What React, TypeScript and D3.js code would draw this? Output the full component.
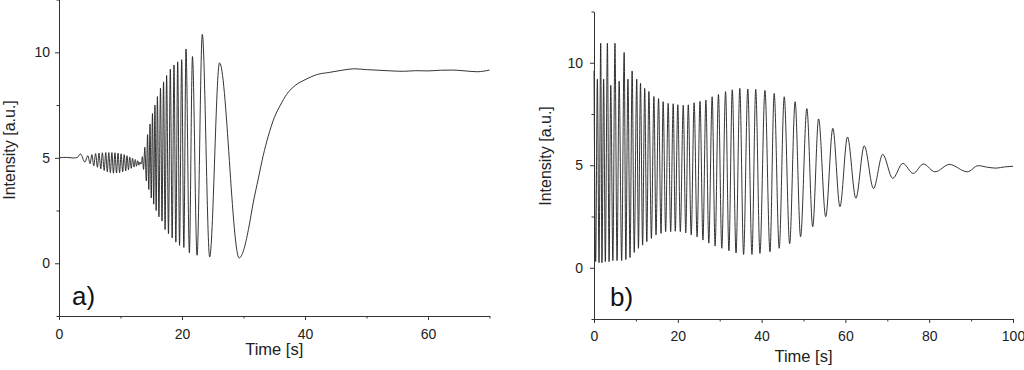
import * as d3 from 'd3'
import {useEffect, useRef} from 'react'

// panel a) – extrema / shape points
const aTimes = [
  0, 1.2, 2.4, 3.0,
  3.5, 4.2, 4.7, 5.05, 5.35, 5.65, 5.95, 6.25, 6.5, 6.8, 7.05, 7.35, 7.6, 7.85, 8.1, 8.35, 8.6, 8.85, 9.1,
  9.35, 9.6, 9.85, 10.1, 10.35, 10.6, 10.85, 11.05, 11.3, 11.5, 11.75, 11.95, 12.2, 12.4, 12.6, 12.8, 13.0,
  13.15, 13.3, 13.4,
  13.55, 13.75, 13.95, 14.2, 14.4, 14.6, 14.8, 15.0, 15.2, 15.4, 15.6, 15.8, 16.0, 16.25, 16.5, 16.75, 17.0,
  17.25, 17.5, 17.8, 18.1, 18.4, 18.7, 19.0, 19.3, 19.6, 19.95, 20.3, 20.65, 21.2, 21.7, 22.45, 23.3, 24.5,
  26.1, 29.3,
  30.0, 30.8, 31.6, 32.4, 33.2, 34.0, 35.0, 36.0, 37.0, 38.5, 40.0, 42.0, 44.0, 46.0, 48.0, 50.0, 52.0, 54.0,
  56.0, 58.0, 60.0, 62.0, 64.0, 66.0, 68.0, 70.0,
]
const aValues = [
  5.0, 5.02, 4.99, 5.02,
  5.18, 4.8, 5.1, 4.72, 5.15, 4.62, 5.2, 4.55, 5.22, 4.48, 5.24, 4.4, 5.25, 4.34, 5.25, 4.3, 5.25, 4.27, 5.24,
  4.28, 5.22, 4.3, 5.19, 4.34, 5.15, 4.38, 5.1, 4.44, 5.04, 4.5, 4.98, 4.56, 4.92, 4.6, 4.86, 4.65,
  4.8, 4.7, 4.76,
  5.05, 4.45, 5.5, 3.9, 6.1, 3.5, 6.6, 3.1, 7.1, 2.8, 7.5, 2.5, 7.9, 2.2, 8.3, 2.0, 8.6,
  1.6, 8.9, 1.4, 9.2, 1.2, 9.4, 1.0, 9.55, 0.85, 9.65, 0.75, 10.16, 0.5, 9.8, 0.38, 10.85, 0.3,
  9.5, 0.25,
  0.6, 1.6, 2.9, 4.0, 5.1, 6.0, 6.9, 7.5, 8.0, 8.45, 8.7, 8.95, 9.05, 9.15, 9.22, 9.18, 9.15, 9.12,
  9.1, 9.13, 9.12, 9.15, 9.16, 9.12, 9.08, 9.16,
]

// panel b)
const bTimes = [
  0, 0.4, 0.8, 1.2, 1.6, 1.9, 2.3, 2.7, 3.2, 3.6, 4.0, 4.5, 5.0, 5.5, 6.0, 6.6, 7.2, 7.6, 8.1, 8.6, 9.1, 9.6,
  10.2, 10.6, 11.1, 11.6, 12.1, 12.6, 13.1, 13.7, 14.3, 14.8, 15.4, 16.0, 16.5, 17.1, 17.7, 18.3, 18.9, 19.4,
  20.0, 20.6, 21.3, 21.9, 22.5, 23.2, 23.9, 24.6, 25.3, 26.0, 26.7, 27.4, 28.2, 28.9, 29.7, 30.5, 31.4, 32.2,
  33.0, 33.9, 34.8, 35.7, 36.7, 37.7, 38.6, 39.6, 40.8, 42.0, 43.0, 44.2, 45.4, 46.7, 48.0, 49.3, 50.8, 52.2,
  53.6, 55.3, 57.0, 58.7, 60.5, 62.5, 64.5, 66.7, 68.9, 71.3, 73.7, 76.2, 78.6, 81.4, 84.8, 89.1, 91.7,
  94.0, 96.0, 98.0, 100.0,
]
const bValues = [
  9.6, 0.3, 9.2, 0.25, 10.95, 0.25, 9.2, 0.3, 10.95, 0.3, 8.9, 0.35, 10.95, 0.35, 9.1, 0.35, 10.5, 0.4, 9.2, 0.5, 9.6, 0.75,
  9.2, 0.95, 9.0, 1.1, 8.75, 1.27, 8.6, 1.43, 8.35, 1.6, 8.25, 1.68, 8.1, 1.76, 8.02, 1.76, 8.0, 1.78,
  7.95, 1.76, 7.93, 1.7, 7.95, 1.6, 8.05, 1.5, 8.12, 1.35, 8.18, 1.2, 8.34, 1.06, 8.45, 0.95, 8.59, 0.83,
  8.68, 0.72, 8.75, 0.65, 8.72, 0.65, 8.7, 0.7, 8.65, 0.78, 8.5, 0.95, 8.34, 1.17, 8.1, 1.51, 7.76, 2.0,
  7.26, 2.49, 6.8, 2.98, 6.38, 3.39, 5.95, 3.87, 5.53, 4.36, 5.09, 4.6, 5.06, 4.68, 5.04, 4.68, 4.98,
  4.9, 4.86, 4.92, 4.95,
]

const yMajor = [0, 5, 10]
const yMinor = [-2.5, 2.5, 7.5, 12.5]
const aXMajor = [0, 20, 40, 60]
const aXMinor = [10, 30, 50, 70]
const bXMajor = [0, 20, 40, 60, 80, 100]
const bXMinor = [10, 30, 50, 70, 90]

const font = '"Liberation Sans", Arial, sans-serif'

type Panel = {
  times: number[]
  values: number[]
  xDomain: [number, number]
  xRange: [number, number]
  yRange: [number, number]
  xMajor: number[]
  xMinor: number[]
  yPad: number
  xPad: number
  tag: string
  tagX: number
  tagY: number
  xTitleY: number
  yTitleX: number
  yTitleY: number
}

const panels: Panel[] = [
  {
    times: aTimes, values: aValues, xDomain: [0, 70], xRange: [59, 489.5], yRange: [316, -0.4],
    xMajor: aXMajor, xMinor: aXMinor, yPad: 5, xPad: 9, tag: 'a)', tagX: 72, tagY: 305,
    xTitleY: 355, yTitleX: 15, yTitleY: 150,
  },
  {
    times: bTimes, values: bValues, xDomain: [0, 100], xRange: [594, 1013], yRange: [319, 11.5],
    xMajor: bXMajor, xMinor: bXMinor, yPad: 7, xPad: 8, tag: 'b)', tagX: 610, tagY: 306,
    xTitleY: 362, yTitleX: 551, yTitleY: 156,
  },
]

function drawPanel(svg: d3.Selection<SVGSVGElement, unknown, null, undefined>, p: Panel) {
  const x = d3.scaleLinear().domain(p.xDomain).range(p.xRange)
  const y = d3.scaleLinear().domain([-2.5, 12.5]).range(p.yRange)
  const g = svg.append('g')

  const line = d3
    .line<number>()
    .x((_, i) => x(p.times[i]))
    .y(d => y(d))
    .curve(d3.curveMonotoneX)
  g.append('path')
    .attr('d', line(p.values))
    .attr('fill', 'none')
    .attr('stroke', '#1e1e1e')
    .attr('stroke-width', 0.9)

  const styleAxis = (sel: d3.Selection<SVGGElement, unknown, null, undefined>) => {
    sel.select('.domain').attr('stroke', '#333')
    sel.selectAll('.tick line').attr('stroke', '#333')
    sel.selectAll('text').attr('font-family', font).attr('font-size', 14).attr('fill', '#222')
  }

  g.append('g')
    .attr('transform', `translate(0,${p.yRange[0]})`)
    .call(d3.axisBottom(x).tickValues(p.xMinor).tickSize(2.5).tickFormat(() => '').tickSizeOuter(0))
    .call(styleAxis)
  g.append('g')
    .attr('transform', `translate(0,${p.yRange[0]})`)
    .call(d3.axisBottom(x).tickValues(p.xMajor).tickSize(4).tickPadding(p.xPad).tickSizeOuter(0))
    .call(styleAxis)
  g.append('g')
    .attr('transform', `translate(${p.xRange[0]},0)`)
    .call(d3.axisLeft(y).tickValues(yMinor).tickSize(2.5).tickFormat(() => '').tickSizeOuter(0))
    .call(styleAxis)
  g.append('g')
    .attr('transform', `translate(${p.xRange[0]},0)`)
    .call(d3.axisLeft(y).tickValues(yMajor).tickSize(4).tickPadding(p.yPad).tickSizeOuter(0))
    .call(styleAxis)

  g.append('text')
    .attr('x', (p.xRange[0] + p.xRange[1]) / 2)
    .attr('y', p.xTitleY)
    .attr('text-anchor', 'middle')
    .attr('font-family', font)
    .attr('font-size', 16.5)
    .attr('fill', '#222')
    .text('Time [s]')
  g.append('text')
    .attr('transform', `translate(${p.yTitleX},${p.yTitleY}) rotate(-90)`)
    .attr('text-anchor', 'middle')
    .attr('font-family', font)
    .attr('font-size', 16)
    .attr('fill', '#222')
    .text('Intensity [a.u.]')
  g.append('text')
    .attr('x', p.tagX)
    .attr('y', p.tagY)
    .attr('font-family', font)
    .attr('font-size', 26)
    .attr('fill', '#111')
    .text(p.tag)
}

export default function App() {
  const ref = useRef<SVGSVGElement>(null)
  useEffect(() => {
    if (!ref.current) return
    const svg = d3.select(ref.current)
    svg.selectAll('*').remove()
    panels.forEach(p => drawPanel(svg, p))
  }, [])
  return (
    <svg
      ref={ref}
      width={1024}
      height={370}
      style={{position: 'absolute', left: 0, top: 0, background: '#fff'}}
    />
  )
}
